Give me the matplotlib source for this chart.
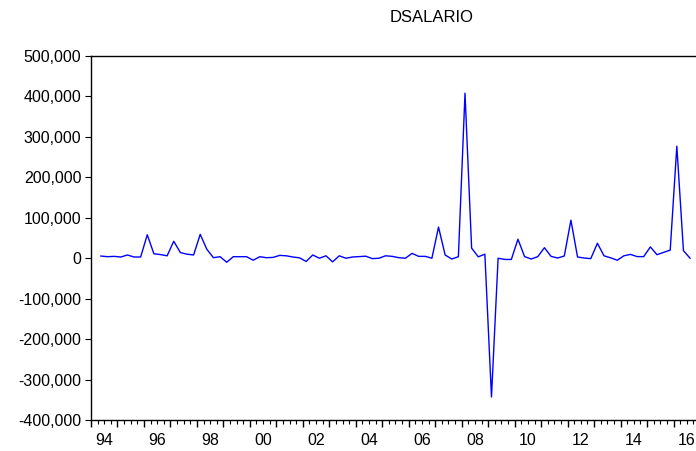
import numpy as np
import matplotlib
matplotlib.use("Agg")
import matplotlib.pyplot as plt
from matplotlib.ticker import FuncFormatter

# quarterly differences of SALARIO, 1994Q2 - 2016Q3
start_year = 1994
start_quarter = 2
dsalario = [
    5400, 3800, 4600, 3000, 8000, 3000, 3000, 58000, 11000, 9000,
    6000, 42000, 14000, 10000, 8000, 59000, 22000, 1300, 3800, -10000,
    3800, 3800, 3800, -5000, 3800, 1300, 2000, 7000, 6000, 3000,
    1000, -8000, 8000, 0, 6000, -9000, 6000, 0, 3000, 4000,
    5000, -1000, 0, 6000, 4600, 1300, 0, 12000, 4600, 4600,
    0, 77000, 8000, -2000, 3800, 408000, 25000, 3500, 10000, -343000,
    0, -3000, -3000, 47000, 4000, -2000, 4000, 26000, 4600, 500,
    5500, 94000, 3000, 500, -1000, 37000, 6000, 1000, -5000, 6000,
    9500, 4000, 4000, 28000, 8700, 14500, 20000, 277000, 18600, 0,
]
year_labels = ['94', '96', '98', '00', '02', '04', '06', '08', '10', '12', '14', '16']
label_years = [1994 + 2 * i for i in range(len(year_labels))]

plt.rcParams['font.family'] = ['Liberation Sans', 'DejaVu Sans']

# x position = middle of each quarter, in fractional years
idx = np.arange(len(dsalario)) + (start_quarter - 1)
x = start_year + (idx + 0.5) / 4.0

fig = plt.figure(figsize=(6.96, 4.51), dpi=100)
ax = fig.add_axes([91 / 696, 31 / 451, 609 / 696, 364 / 451])

ax.plot(x, dsalario, color='#0000ff', linewidth=1.0)

ax.set_xlim(1994, 2017)
ax.set_ylim(-400000, 500000)
ax.set_yticks(np.arange(-400000, 500001, 100000))
ax.yaxis.set_major_formatter(FuncFormatter(lambda v, p: '{:,.0f}'.format(v)))

ax.set_xticks(np.arange(1994, 2018, 1))
ax.set_xticklabels([])
ax.set_xticks(np.arange(1994, 2017.01, 0.25), minor=True)
for yr, lab in zip(label_years, year_labels):
    ax.text(yr + 0.5, -0.035, lab, transform=ax.get_xaxis_transform(),
            ha='center', va='top', fontsize=11.5)

ax.tick_params(axis='x', which='major', direction='out', length=5, width=1)
ax.tick_params(axis='x', which='minor', direction='out', length=3, width=0.8)
ax.tick_params(axis='y', direction='out', length=4, labelsize=11.5, pad=3)

for s in ['left', 'bottom', 'top']:
    ax.spines[s].set_linewidth(1.0)
ax.spines['right'].set_visible(False)

fig.text(432 / 696, 1 - 18 / 451, 'DSALARIO', ha='center', va='center', fontsize=12)

fig.savefig('out.png', dpi=100)
